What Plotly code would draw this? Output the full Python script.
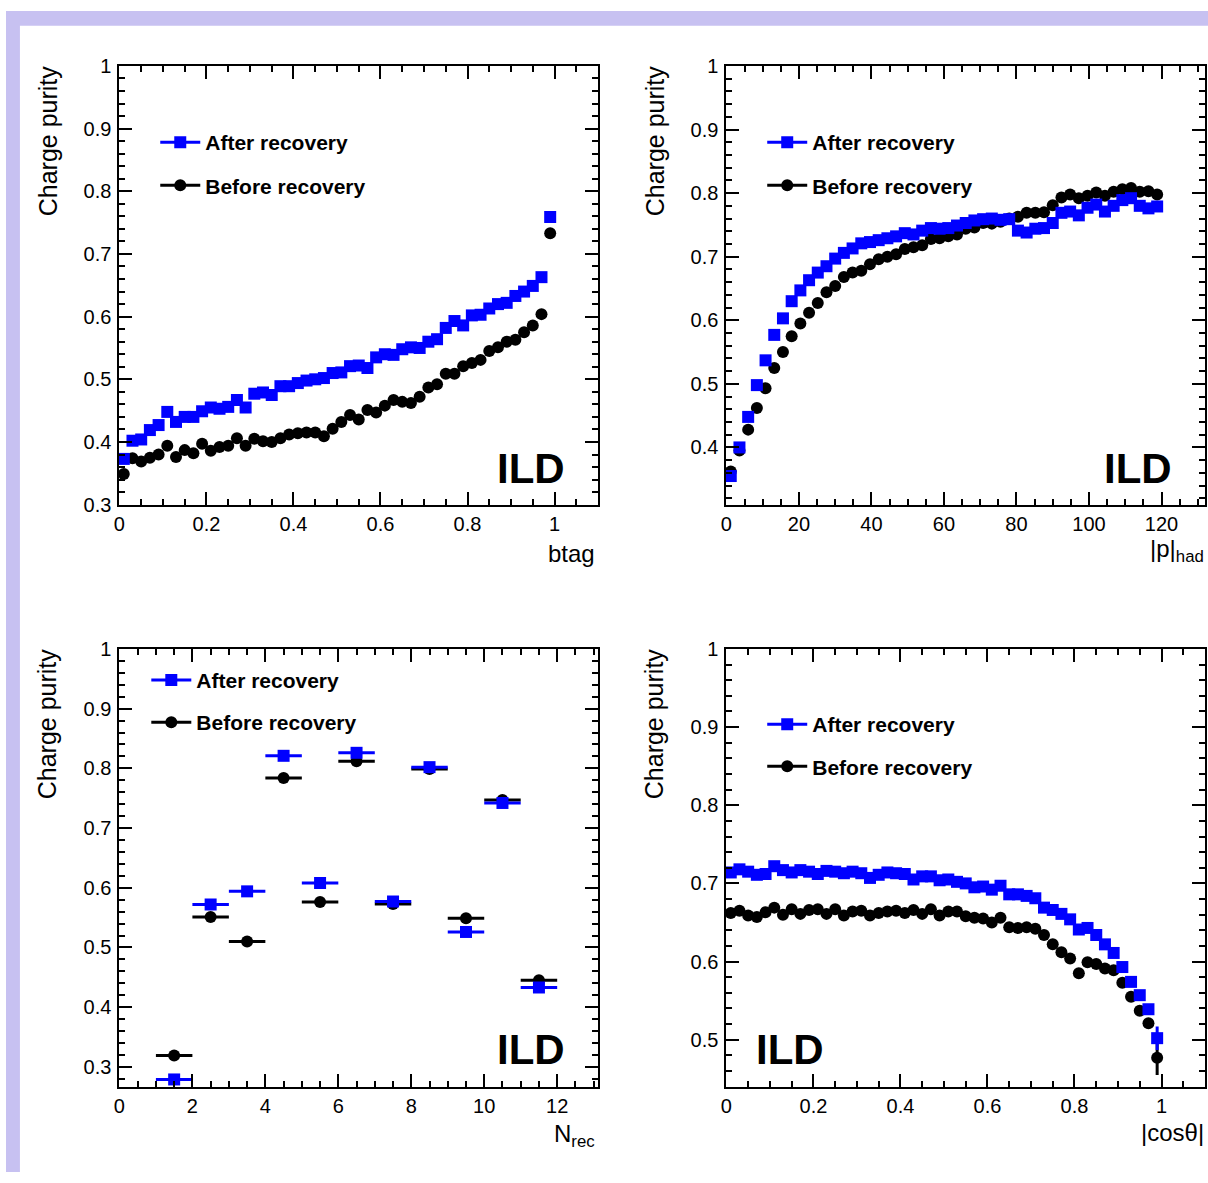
import plotly.graph_objects as go

# ---------------- data ----------------
btag_x = [0.01, 0.03, 0.05, 0.07, 0.09, 0.11, 0.13, 0.15, 0.17, 0.19,
          0.21, 0.23, 0.25, 0.27, 0.29, 0.31, 0.33, 0.35, 0.37, 0.39,
          0.41, 0.43, 0.45, 0.47, 0.49, 0.51, 0.53, 0.55, 0.57, 0.59,
          0.61, 0.63, 0.65, 0.67, 0.69, 0.71, 0.73, 0.75, 0.77, 0.79,
          0.81, 0.83, 0.85, 0.87, 0.89, 0.91, 0.93, 0.95, 0.97, 0.99]
btag_after = [0.373, 0.402, 0.404, 0.419, 0.427, 0.448, 0.432, 0.440, 0.440, 0.449,
              0.455, 0.453, 0.456, 0.467, 0.455, 0.477, 0.479, 0.475, 0.489, 0.489,
              0.494, 0.498, 0.500, 0.502, 0.510, 0.511, 0.521, 0.522, 0.518, 0.535,
              0.540, 0.539, 0.548, 0.551, 0.550, 0.560, 0.564, 0.582, 0.593, 0.586,
              0.602, 0.603, 0.613, 0.620, 0.622, 0.633, 0.640, 0.649, 0.663, 0.759]
btag_before = [0.349, 0.374, 0.369, 0.375, 0.380, 0.394, 0.376, 0.387, 0.382, 0.397,
               0.386, 0.392, 0.394, 0.406, 0.394, 0.405, 0.401, 0.400, 0.406, 0.412,
               0.414, 0.415, 0.415, 0.409, 0.421, 0.432, 0.443, 0.436, 0.451, 0.447,
               0.458, 0.467, 0.464, 0.462, 0.472, 0.487, 0.492, 0.509, 0.509, 0.521,
               0.526, 0.531, 0.545, 0.551, 0.560, 0.563, 0.575, 0.586, 0.604, 0.733]

p_x = [1.2, 3.6, 6.0, 8.4, 10.8, 13.2, 15.6, 18.0, 20.4, 22.8,
       25.2, 27.6, 30.0, 32.4, 34.8, 37.2, 39.6, 42.0, 44.4, 46.8,
       49.2, 51.6, 54.0, 56.4, 58.8, 61.2, 63.6, 66.0, 68.4, 70.8,
       73.2, 75.6, 78.0, 80.4, 82.8, 85.2, 87.6, 90.0, 92.4, 94.8,
       97.2, 99.6, 102.0, 104.4, 106.8, 109.2, 111.6, 114.0, 116.4, 118.8]
p_after = [0.355, 0.400, 0.448, 0.498, 0.537, 0.577, 0.603, 0.630, 0.647, 0.663,
           0.675, 0.685, 0.697, 0.706, 0.713, 0.721, 0.723, 0.726, 0.729, 0.732,
           0.737, 0.735, 0.741, 0.745, 0.744, 0.745, 0.749, 0.753, 0.757, 0.759,
           0.760, 0.758, 0.759, 0.741, 0.738, 0.744, 0.745, 0.753, 0.769, 0.771,
           0.765, 0.777, 0.782, 0.771, 0.780, 0.789, 0.792, 0.780, 0.776, 0.779]
p_before = [0.362, 0.395, 0.428, 0.462, 0.493, 0.525, 0.550, 0.575, 0.595, 0.612,
            0.627, 0.644, 0.654, 0.668, 0.675, 0.678, 0.688, 0.696, 0.700, 0.704,
            0.712, 0.715, 0.718, 0.728, 0.729, 0.732, 0.735, 0.744, 0.746, 0.753,
            0.752, 0.755, 0.760, 0.763, 0.769, 0.769, 0.770, 0.781, 0.793, 0.798,
            0.792, 0.796, 0.801, 0.796, 0.802, 0.806, 0.808, 0.802, 0.803, 0.798]

nrec_x = [1.5, 2.5, 3.5, 4.5, 5.5, 6.5, 7.5, 8.5, 9.5, 10.5, 11.5]
nrec_after = [0.279, 0.572, 0.594, 0.821, 0.608, 0.826, 0.577, 0.802, 0.526, 0.742, 0.433]
nrec_before = [0.319, 0.551, 0.510, 0.784, 0.576, 0.812, 0.573, 0.799, 0.549, 0.747, 0.445]

cos_x = [0.01, 0.03, 0.05, 0.07, 0.09, 0.11, 0.13, 0.15, 0.17, 0.19,
         0.21, 0.23, 0.25, 0.27, 0.29, 0.31, 0.33, 0.35, 0.37, 0.39,
         0.41, 0.43, 0.45, 0.47, 0.49, 0.51, 0.53, 0.55, 0.57, 0.59,
         0.61, 0.63, 0.65, 0.67, 0.69, 0.71, 0.73, 0.75, 0.77, 0.79,
         0.81, 0.83, 0.85, 0.87, 0.89, 0.91, 0.93, 0.95, 0.97, 0.99]
cos_after = [0.714, 0.718, 0.715, 0.711, 0.712, 0.722, 0.717, 0.714, 0.717, 0.715,
             0.712, 0.716, 0.715, 0.713, 0.715, 0.713, 0.707, 0.711, 0.714, 0.713,
             0.712, 0.705, 0.709, 0.709, 0.704, 0.705, 0.702, 0.700, 0.695, 0.696,
             0.692, 0.697, 0.686, 0.686, 0.684, 0.681, 0.669, 0.666, 0.661, 0.654,
             0.641, 0.643, 0.634, 0.622, 0.611, 0.593, 0.574, 0.557, 0.539, 0.502]
cos_before = [0.662, 0.665, 0.659, 0.657, 0.663, 0.669, 0.660, 0.667, 0.661, 0.666,
              0.667, 0.661, 0.667, 0.659, 0.664, 0.665, 0.659, 0.662, 0.664, 0.665,
              0.662, 0.666, 0.661, 0.667, 0.659, 0.664, 0.664, 0.658, 0.656, 0.655,
              0.650, 0.656, 0.644, 0.643, 0.644, 0.642, 0.634, 0.622, 0.612, 0.604,
              0.585, 0.599, 0.597, 0.591, 0.589, 0.573, 0.555, 0.537, 0.521, 0.477]
cos_after_err = [0] * 49 + [0.015]
cos_before_err = [0] * 49 + [0.022]

series_names = ["After recovery", "Before recovery"]
y_title = "Charge purity"
x_titles = ["btag", "|p|<sub>had</sub>", "N<sub>rec</sub>", "|cos\u03b8|"]
stamp = "ILD"

# ---------------- styling ----------------
W, H = 1208, 1183
FONT = "Liberation Sans, Arial, Helvetica, sans-serif"
BLUE = "#0000ff"
BLACK = "#000000"
LAVENDER = "#c7c1f1"


def px(xp):
    return xp / W


def py(yp):
    return 1 - yp / H


# frames in pixel coordinates: (left, right, top, bottom)
frames = [(114, 595, 56, 503), (724, 1205, 56, 503),
          (114, 595, 650, 1096), (724, 1205, 650, 1096)]

panels = [
    dict(x=btag_x, a=btag_after, b=btag_before, hw=0.01, xr=[0, 1.1], yr=[0.3, 1.0],
         dt=0.2, mdt=0.05, ea=None, eb=None),
    dict(x=p_x, a=p_after, b=p_before, hw=1.2, xr=[0, 132], yr=[0.31, 1.0],
         dt=20, mdt=5, ea=None, eb=None),
    dict(x=nrec_x, a=nrec_after, b=nrec_before, hw=0.5, xr=[0, 13.12], yr=[0.267, 1.0],
         dt=2, mdt=0.5, ea=None, eb=None),
    dict(x=cos_x, a=cos_after, b=cos_before, hw=0.01, xr=[0, 1.1], yr=[0.44, 1.0],
         dt=0.2, mdt=0.05, ea=cos_after_err, eb=cos_before_err),
]

fig = go.Figure()
layout = dict(
    width=W, height=H, margin=dict(l=0, r=0, t=0, b=0),
    paper_bgcolor="white", plot_bgcolor="white", showlegend=True,
    font=dict(family=FONT, color="black"),
)

axis_common = dict(
    ticks="inside", ticklen=13, tickwidth=2, tickcolor="black",
    mirror="allticks", showline=True, linecolor="black", linewidth=2,
    showgrid=False, zeroline=False,
    tickfont=dict(family=FONT, size=20, color="black"),
)

legend_pos = [(150, 134, 178), (760, 134, 178), (141, 682, 725), (760, 727, 770)]
ild_pos = [(564, 466, "right"), (1174, 466, "right"), (564, 1058, "right"), (752, 1058, "left")]
xtitle_pos = [(594, 553), (1206, 550), (594, 1146), (1206, 1143)]

annotations = []
shapes = [
    dict(type="rect", xref="paper", yref="paper", x0=0, x1=1, y0=py(15), y1=1,
         fillcolor=LAVENDER, line=dict(width=0), layer="below"),
    dict(type="rect", xref="paper", yref="paper", x0=0, x1=px(14), y0=0, y1=1,
         fillcolor=LAVENDER, line=dict(width=0), layer="below"),
]

leg_idx = 1
for i, (pn, fr) in enumerate(zip(panels, frames)):
    n = "" if i == 0 else str(i + 1)
    xa, ya = "x" + n, "y" + n
    l, r, t, b = fr
    layout["xaxis" + n] = dict(axis_common, domain=[px(l), px(r)], range=pn["xr"],
                               tick0=0, dtick=pn["dt"], anchor=ya, ticklabelstandoff=0,
                               minor=dict(ticks="inside", ticklen=6, tickwidth=2,
                                          tickcolor="black", dtick=pn["mdt"], tick0=0,
                                          showgrid=False))
    layout["yaxis" + n] = dict(axis_common, domain=[py(b), py(t)], range=pn["yr"],
                               tick0=0, dtick=0.1, anchor=xa, ticklabelstandoff=2,
                               minor=dict(ticks="inside", ticklen=6, tickwidth=2,
                                          tickcolor="black", dtick=0.02, tick0=0,
                                          showgrid=False))
    fig.add_trace(go.Scatter(
        x=pn["x"], y=pn["b"], mode="markers", xaxis=xa, yaxis=ya, showlegend=False,
        marker=dict(symbol="circle", size=12, color=BLACK, line=dict(width=0)),
        error_x=dict(type="constant", value=pn["hw"], thickness=3, width=0, color=BLACK),
        error_y=(dict(type="data", array=pn["eb"], thickness=3, width=0, color=BLACK)
                 if pn["eb"] else None),
        cliponaxis=False))
    fig.add_trace(go.Scatter(
        x=pn["x"], y=pn["a"], mode="markers", xaxis=xa, yaxis=ya, showlegend=False,
        marker=dict(symbol="square", size=12, color=BLUE, line=dict(width=0)),
        error_x=dict(type="constant", value=pn["hw"], thickness=3, width=0, color=BLUE),
        error_y=(dict(type="data", array=pn["ea"], thickness=3, width=0, color=BLUE)
                 if pn["ea"] else None),
        cliponaxis=False))

    lx, ly_a, ly_b = legend_pos[i]
    for name, col, sym, ly in [(series_names[0], BLUE, "square", ly_a),
                               (series_names[1], BLACK, "circle", ly_b)]:
        key = "legend" if leg_idx == 1 else "legend%d" % leg_idx
        fig.add_trace(go.Scatter(
            x=[None], y=[None], mode="lines+markers", name=name, legend=key,
            xaxis=xa, yaxis=ya,
            line=dict(color=col, width=3),
            marker=dict(symbol=sym, size=12, color=col)))
        layout[key] = dict(x=px(lx), y=py(ly), xanchor="left", yanchor="middle",
                           xref="paper", yref="paper", bgcolor="rgba(0,0,0,0)",
                           borderwidth=0, itemwidth=40,
                           font=dict(family=FONT, size=21, color="black", weight="bold"))
        leg_idx += 1

    annotations.append(dict(text=y_title, xref="paper", yref="paper",
                            x=px(l - 72), y=py(t - 3), xanchor="center", yanchor="top",
                            textangle=-90, showarrow=False,
                            font=dict(family=FONT, size=25, color="black")))
    tx, ty = xtitle_pos[i]
    annotations.append(dict(text=x_titles[i], xref="paper", yref="paper",
                            x=px(tx), y=py(ty), xanchor="right", yanchor="middle",
                            showarrow=False,
                            font=dict(family=FONT, size=24, color="black")))
    ix, iy, ianch = ild_pos[i]
    annotations.append(dict(text="<b>%s</b>" % stamp, xref="paper", yref="paper",
                            x=px(ix), y=py(iy), xanchor=ianch, yanchor="middle",
                            showarrow=False,
                            font=dict(family=FONT, size=42, color="black")))

layout["annotations"] = annotations
layout["shapes"] = shapes
fig.update_layout(**layout)

fig.write_html(
    "out.html",
    config={"displayModeBar": False},
    post_script=("document.documentElement.style.margin='0px';"
                 "document.body.style.margin='0px';"
                 "document.body.style.padding='0px';"
                 "document.body.style.overflow='hidden';"),
)
